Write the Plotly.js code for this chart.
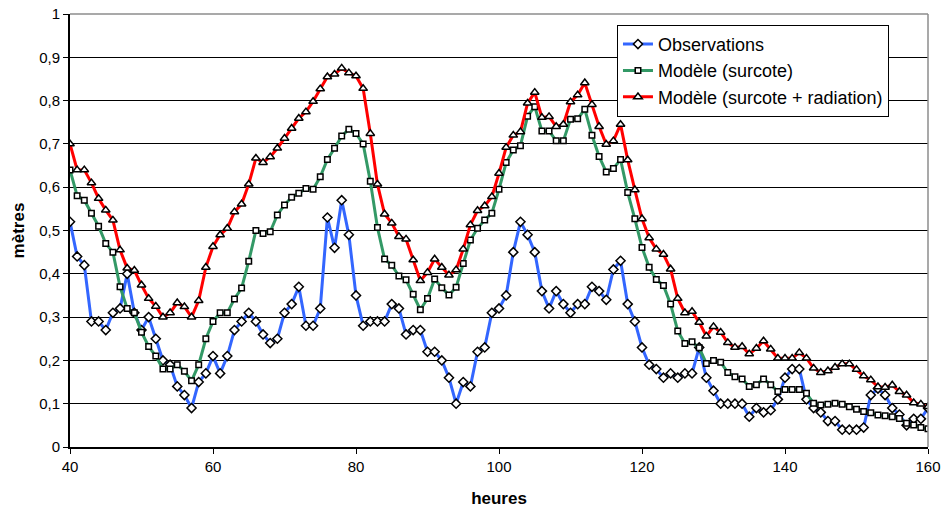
<!DOCTYPE html>
<html>
<head>
<meta charset="utf-8">
<script src="https://cdn.plot.ly/plotly-3.0.1.min.js"></script>
<style>html,body{margin:0;padding:0;background:#fff;}#chart{width:945px;height:514px;}</style>
</head>
<body>
<div id="chart"></div>
<script>
// hours 40..160 (hourly)
const hours = [];
for (let h = 40; h <= 160; h++) hours.push(h);

const observations = [
0.52,0.44,0.42,0.29,0.29,0.27,0.31,0.32,0.40,0.31,
0.27,0.30,0.25,0.20,0.19,0.14,0.12,0.09,0.15,0.17,
0.21,0.17,0.21,0.27,0.29,0.31,0.29,0.26,0.24,0.25,
0.31,0.33,0.37,0.28,0.28,0.32,0.53,0.46,0.57,0.49,
0.35,0.28,0.29,0.29,0.29,0.33,0.32,0.26,0.27,0.27,
0.22,0.22,0.20,0.16,0.10,0.15,0.14,0.22,0.23,0.31,
0.32,0.35,0.45,0.52,0.49,0.45,0.36,0.32,0.36,0.33,
0.31,0.33,0.33,0.37,0.36,0.34,0.41,0.43,0.33,0.29,
0.23,0.19,0.18,0.16,0.17,0.16,0.17,0.17,0.23,0.16,
0.13,0.10,0.10,0.10,0.10,0.07,0.09,0.08,0.085,0.11,
0.16,0.18,0.18,0.11,0.09,0.08,0.06,0.06,0.04,0.04,
0.04,0.045,0.12,0.135,0.12,0.09,0.075,0.05,0.065,0.065,
0.09];

const surcote = [
0.64,0.58,0.57,0.54,0.51,0.47,0.45,0.37,0.32,0.31,
0.265,0.232,0.21,0.18,0.18,0.19,0.175,0.153,0.19,0.25,
0.29,0.31,0.31,0.342,0.367,0.429,0.50,0.493,0.497,0.536,
0.559,0.577,0.586,0.597,0.595,0.624,0.664,0.69,0.718,0.734,
0.724,0.70,0.614,0.507,0.434,0.42,0.395,0.386,0.353,0.317,
0.343,0.388,0.368,0.351,0.369,0.424,0.478,0.505,0.524,0.54,
0.595,0.657,0.686,0.696,0.764,0.786,0.73,0.73,0.707,0.707,
0.757,0.758,0.78,0.72,0.671,0.635,0.643,0.664,0.588,0.527,
0.461,0.415,0.387,0.373,0.33,0.268,0.239,0.243,0.229,0.193,
0.20,0.196,0.172,0.162,0.157,0.14,0.144,0.157,0.144,0.128,
0.133,0.133,0.133,0.124,0.101,0.097,0.099,0.101,0.099,0.093,
0.087,0.082,0.079,0.074,0.072,0.07,0.066,0.055,0.051,0.045,
0.042];

const surcoteRadiation = [
0.70,0.64,0.64,0.61,0.574,0.547,0.524,0.455,0.413,0.408,
0.374,0.343,0.325,0.30,0.31,0.333,0.324,0.30,0.338,0.415,
0.463,0.49,0.505,0.543,0.561,0.607,0.667,0.657,0.67,0.69,
0.713,0.736,0.759,0.774,0.798,0.827,0.855,0.861,0.875,0.864,
0.857,0.828,0.724,0.607,0.538,0.517,0.486,0.48,0.432,0.384,
0.403,0.434,0.415,0.397,0.409,0.457,0.513,0.546,0.557,0.578,
0.632,0.692,0.72,0.728,0.794,0.819,0.761,0.763,0.74,0.745,
0.797,0.813,0.841,0.791,0.74,0.699,0.707,0.745,0.663,0.594,
0.527,0.483,0.457,0.445,0.411,0.343,0.31,0.313,0.288,0.256,
0.278,0.265,0.241,0.23,0.232,0.215,0.228,0.245,0.226,0.205,
0.205,0.205,0.218,0.205,0.182,0.172,0.176,0.184,0.192,0.192,
0.179,0.164,0.155,0.139,0.138,0.143,0.128,0.12,0.102,0.099,
0.093];

const seriesNames = ['Observations', 'Modèle (surcote)', 'Modèle (surcote + radiation)'];
const xTicks = [40, 60, 80, 100, 120, 140, 160];

const FONT = 'Liberation Sans, Arial, sans-serif';

function trace(y, name, color, symbol, size) {
  return {
    x: hours, y: y, name: name, type: 'scatter', mode: 'lines+markers',
    line: {color: color, width: 3},
    marker: {symbol: symbol, size: size, color: '#ffffff', line: {color: '#000000', width: 1.5}},
    hoverinfo: 'skip'
  };
}

const data = [
  trace(observations, seriesNames[0], '#3366ff', 'diamond', 7),
  trace(surcote, seriesNames[1], '#339966', 'square', 5.5),
  trace(surcoteRadiation, seriesNames[2], '#ff0000', 'triangle-up', 7.5)
];

const layout = {
  width: 945, height: 514,
  margin: {l: 70, r: 17, t: 14, b: 67},
  paper_bgcolor: '#ffffff', plot_bgcolor: '#ffffff',
  separators: ', ',
  font: {family: FONT, size: 15, color: '#000000'},
  showlegend: true,
  legend: {
    x: 0.6375, y: 0.975, xanchor: 'left', yanchor: 'top',
    bgcolor: '#ffffff', bordercolor: '#000000', borderwidth: 1,
    font: {family: FONT, size: 18, color: '#000000'},
    itemwidth: 30, tracegroupgap: 0
  },
  xaxis: {
    range: [40, 160], tickmode: 'array', tickvals: xTicks,
    showgrid: false, zeroline: false,
    showline: true, linecolor: '#000000', linewidth: 2,
    ticks: 'outside', ticklen: 5, tickwidth: 1, tickcolor: '#000000',
    tickfont: {family: FONT, size: 15, color: '#000000'},
    title: {text: '<b>heures</b>', font: {family: FONT, size: 17, color: '#000000'}, standoff: 18}
  },
  yaxis: {
    range: [0, 1], dtick: 0.1, tick0: 0,
    showgrid: true, gridcolor: '#000000', gridwidth: 1,
    zeroline: false,
    showline: true, linecolor: '#000000', linewidth: 2,
    ticks: 'outside', ticklen: 5, tickwidth: 1, tickcolor: '#000000',
    tickfont: {family: FONT, size: 15, color: '#000000'},
    title: {text: '<b>mètres</b>', font: {family: FONT, size: 17, color: '#000000'}, standoff: 10}
  },
  shapes: [
    {type: 'line', xref: 'paper', yref: 'paper', x0: 0, x1: 1, y0: 1, y1: 1, line: {color: '#8c8c8c', width: 1.5}, layer: 'above'},
    {type: 'line', xref: 'paper', yref: 'paper', x0: 1, x1: 1, y0: 0, y1: 1, line: {color: '#8c8c8c', width: 1.5}, layer: 'above'}
  ],
  hovermode: false
};

Plotly.newPlot('chart', data, layout, {displayModeBar: false, staticPlot: true});
</script>
</body>
</html>
